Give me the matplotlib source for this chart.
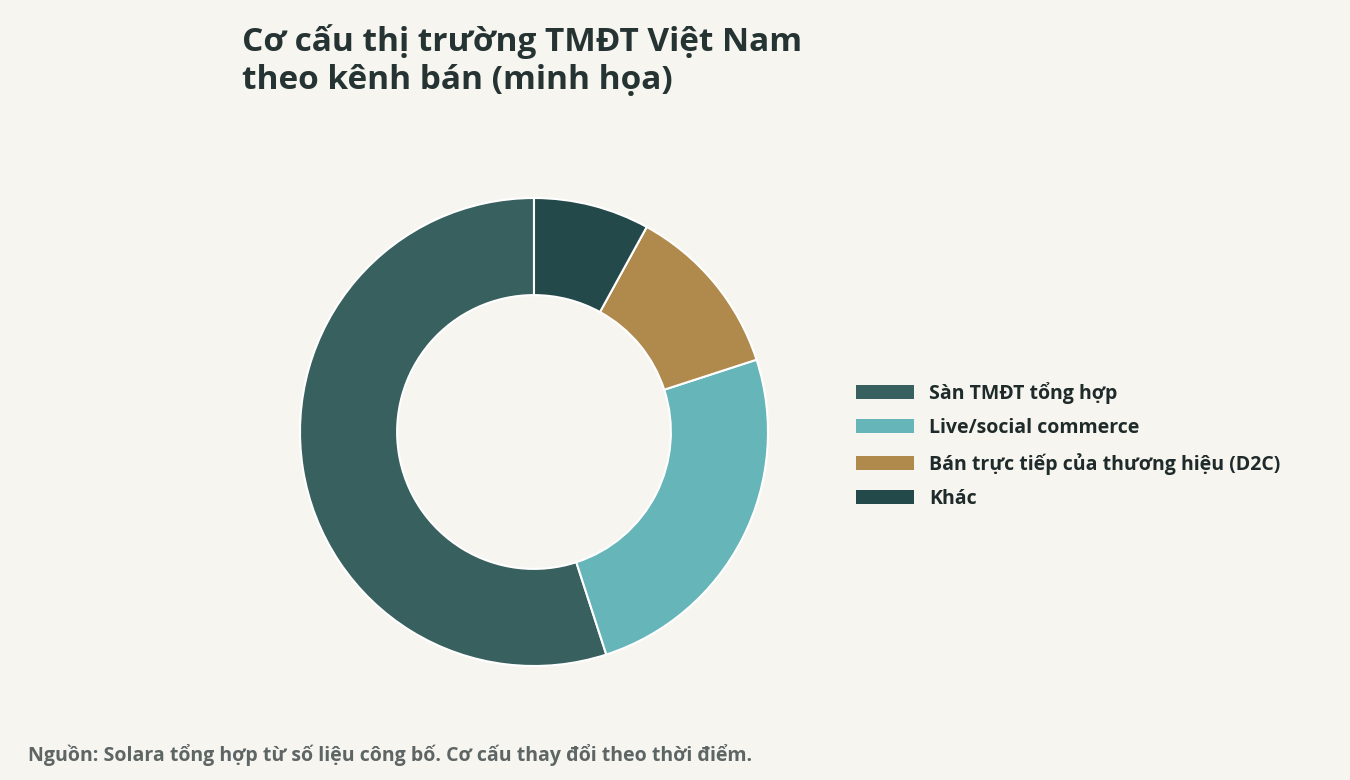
import matplotlib
matplotlib.use("Agg")
import matplotlib.pyplot as plt
from matplotlib.patches import Patch

categories = ["Sàn TMĐT tổng hợp", "Live/social commerce", "Bán trực tiếp của thương hiệu (D2C)", "Khác"]
values = [55, 25, 12, 8]
colors = ["#37605f", "#66b5b9", "#b0894d", "#24494a"]

plt.rcParams['font.family'] = ['Open Sans', 'DejaVu Sans']
bg = "#f6f5f0"
fig = plt.figure(figsize=(13.5, 7.8), dpi=100, facecolor=bg)
ax = fig.add_axes([300/1350, 114/780, 468/1350, 468/780])
ax.set_facecolor(bg)
ax.pie(values, colors=colors, startangle=90, counterclock=True,
       wedgeprops=dict(width=0.415, edgecolor="white", linewidth=1.5))
ax.set_aspect("equal")
ax.set_xlim(-1, 1); ax.set_ylim(-1, 1)
ax.axis("off")

fig.text(242/1350, 1-24/780, "Cơ cấu thị trường TMĐT Việt Nam\ntheo kênh bán (minh họa)",
         fontsize=24, fontweight="bold", color="#253333", va="top", linespacing=1.2)
handles = [Patch(facecolor=c, edgecolor="none") for c in colors]
leg = fig.legend(handles, categories, loc="upper left", bbox_to_anchor=(838/1350, 1-364/780),
                 frameon=False, fontsize=14, handlelength=3.0, handleheight=0.75,
                 labelspacing=0.75, handletextpad=0.8)
for t in leg.get_texts():
    t.set_fontweight("bold"); t.set_color("#1f2a2a")
fig.text(28/1350, 1-755/780, "Nguồn: Solara tổng hợp từ số liệu công bố. Cơ cấu thay đổi theo thời điểm.",
         fontsize=14, fontweight="bold", color="#5d6565", va="center")
fig.savefig("out.png", dpi=100, facecolor=bg)
